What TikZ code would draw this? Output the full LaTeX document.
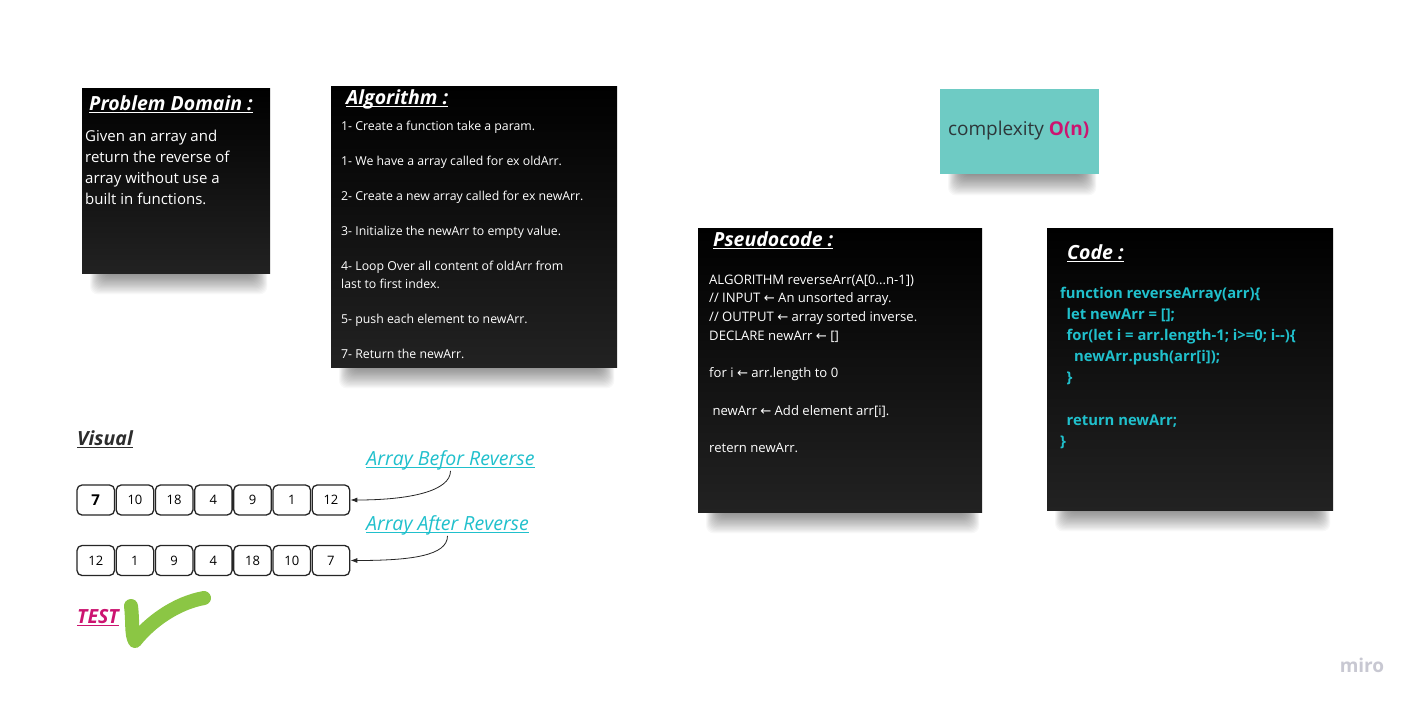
\documentclass[tikz,border=0pt]{standalone}
\usepackage{fontspec}
\setmainfont{Open Sans}
\newfontfamily\symf{DejaVu Sans}
\usetikzlibrary{backgrounds,calc,arrows.meta}
\definecolor{cyanT}{RGB}{32,192,204}
\definecolor{magT}{RGB}{204,20,112}
\definecolor{noteteal}{RGB}{110,203,196}
\definecolor{chk}{RGB}{139,198,68}
\definecolor{darkT}{RGB}{45,45,45}
\definecolor{mirogray}{RGB}{200,200,210}
\newcommand\myul[2][1.5pt]{\setbox0\hbox{#2}\rlap{\rule[-3pt]{\wd0}{#1}}\box0}
\newcommand\la{{\symf\char"2190}}
\newcommand\softshadow[1]{%
  \foreach \k in {0,...,17}
    \fill[black, opacity=0.028, rounded corners=8pt]
      ($(#1.south west)+(8+0.8*\k,-12)$) rectangle ($(#1.south east)+(-3-0.8*\k,21-1.2*\k)$);}
\begin{document}
\begin{tikzpicture}[x=1pt,y=-1pt,
  note/.style={anchor=north west, inner sep=0pt, top color=black,
    bottom color={rgb,255:red,34;green,34;blue,34}},
  tealnote/.style={anchor=north west, inner sep=0pt, fill=noteteal},
  title/.style={anchor=base west, inner sep=0pt, text=white, font=\fontsize{19.5}{22}\selectfont\bfseries\itshape},
  body/.style={anchor=base west, inner sep=0pt, text=white, align=left},
  cell/.style={draw=black!85, line width=1.3pt, rounded corners=5pt, minimum width=37.5pt, minimum height=30pt, inner sep=0pt, font=\fontsize{13}{15}\selectfont},
  lab/.style={anchor=base, inner sep=0pt, text=cyanT, font=\fontsize{19.5}{22}\selectfont\itshape},
  conn/.style={-{Latex[length=7pt,width=5pt]}, line width=0.8pt, black!85},
]
\useasboundingbox (0,0) rectangle (1417,705);

% Problem domain (bodies anchored at the baseline of their last line)
\node[note, minimum width=188pt, minimum height=185pt] (pd) at (82,88) {};
\node[title] (pdt) at (89,110) {\myul{Problem Domain :}};
\node[body, font=\fontsize{15}{21}\selectfont] (pdb) at (85,204)
  {Given an array and\\return the reverse of\\array without use a\\built in functions.};

% Algorithm
\node[note, minimum width=286pt, minimum height=281pt] (al) at (331,86) {};
\node[title] (alt) at (346,104) {\myul{Algorithm :}};
\node[body, font=\fontsize{12.3}{17.5}\selectfont] (alb) at (341,358)
  {1- Create a function take a param.\\ \\
   1- We have a array called for ex oldArr.\\ \\
   2- Create a new array called for ex newArr.\\ \\
   3- Initialize the newArr to empty value.\\ \\
   4- Loop Over all content of oldArr from\\last to first index.\\ \\
   5- push each element to newArr.\\ \\
   7- Return the newArr.};

% Complexity
\node[tealnote, minimum width=159pt, minimum height=85pt] (cx) at (940,89) {};
\node[text={rgb,255:red,45;green,55;blue,58}, font=\fontsize{19}{22}\selectfont, inner sep=0pt] (cxt) at ([xshift=-1pt,yshift=1pt]cx.center)
  {complexity \textcolor{magT}{\bfseries O(n)}};

% Pseudocode
\node[note, minimum width=284pt, minimum height=284pt] (ps) at (698,228) {};
\node[title] (pst) at (713,246) {\myul{Pseudocode :}};
\node[body, font=\fontsize{13.1}{18.7}\selectfont] (psb) at (709,452.5)
  {ALGORITHM reverseArr(A[0...n-1])\\
   // INPUT \la{} An unsorted array.\\
   // OUTPUT \la{} array sorted inverse.\\
   DECLARE newArr \la{} []\\ \\
   for i \la{} arr.length to 0\\ \\
   \ newArr \la{} Add element arr[i].\\ \\
   retern newArr.};

% Code
\node[note, minimum width=286pt, minimum height=282pt] (cd) at (1047,228) {};
\node[title] (cdt) at (1067,259) {\myul{Code :}};
\node[body, text=cyanT, font=\fontsize{14.8}{21.2}\selectfont\bfseries] (cdb) at (1060,446.5)
  {function reverseArray(arr)\{\\
   \hspace*{6.5pt}let newArr = [];\\
   \hspace*{6.5pt}for(let i = arr.length-1; i>=0; i-{}-)\{\\
   \hspace*{14pt}newArr.push(arr[i]);\\
   \hspace*{6.5pt}\}\\ \\
   \hspace*{6.5pt}return newArr;\\
   \}};

% Visual
\node[anchor=base west, inner sep=0pt, text=darkT, font=\fontsize{19.5}{22}\selectfont\bfseries\itshape] (vis) at (77,445) {\myul{Visual}};
\foreach \v [count=\i] in {\textbf{\fontsize{15}{16}\selectfont 7},10,18,4,9,1,12}
  \node[cell] (a\i) at ({95.75+(\i-1)*39.2},500) {\v};
\foreach \v [count=\i] in {12,1,9,4,18,10,7}
  \node[cell] (b\i) at ({95.75+(\i-1)*39.2},560.5) {\v};
\node[lab] (lb1) at (450.5,465) {\myul[1pt]{Array Befor Reverse}};
\node[lab] (lb2) at (447.5,530) {\myul[1pt]{Array After Reverse}};
\draw[conn] ([yshift=-1pt]lb1.south) .. controls +(0,20) and +(60,0) .. (a7.east);
\draw[conn] ([yshift=-1pt]lb2.south) .. controls +(0,20) and +(60,0) .. (b7.east);

% Test
\node[anchor=base west, inner sep=0pt, text=magT, font=\fontsize{19.5}{22}\selectfont\bfseries\itshape] (test) at (77,623) {\myul{TEST}};
\draw[chk, line width=14pt, line cap=round, line join=round]
  (131,606) .. controls (133,622) and (131,634) .. (135,641)
  .. controls (150,622) and (176,603) .. (204,598);

% miro
\node[inner sep=0pt, text=mirogray, font=\fontsize{19}{22}\selectfont\bfseries] (miro) at (1362,665) {miro};

% background and shadows
\begin{scope}[on background layer]
  \fill[white] (0,0) rectangle (1417,705);
  \softshadow{pd}
  \softshadow{al}
  \softshadow{cx}
  \softshadow{ps}
  \softshadow{cd}
\end{scope}
\end{tikzpicture}
\end{document}
